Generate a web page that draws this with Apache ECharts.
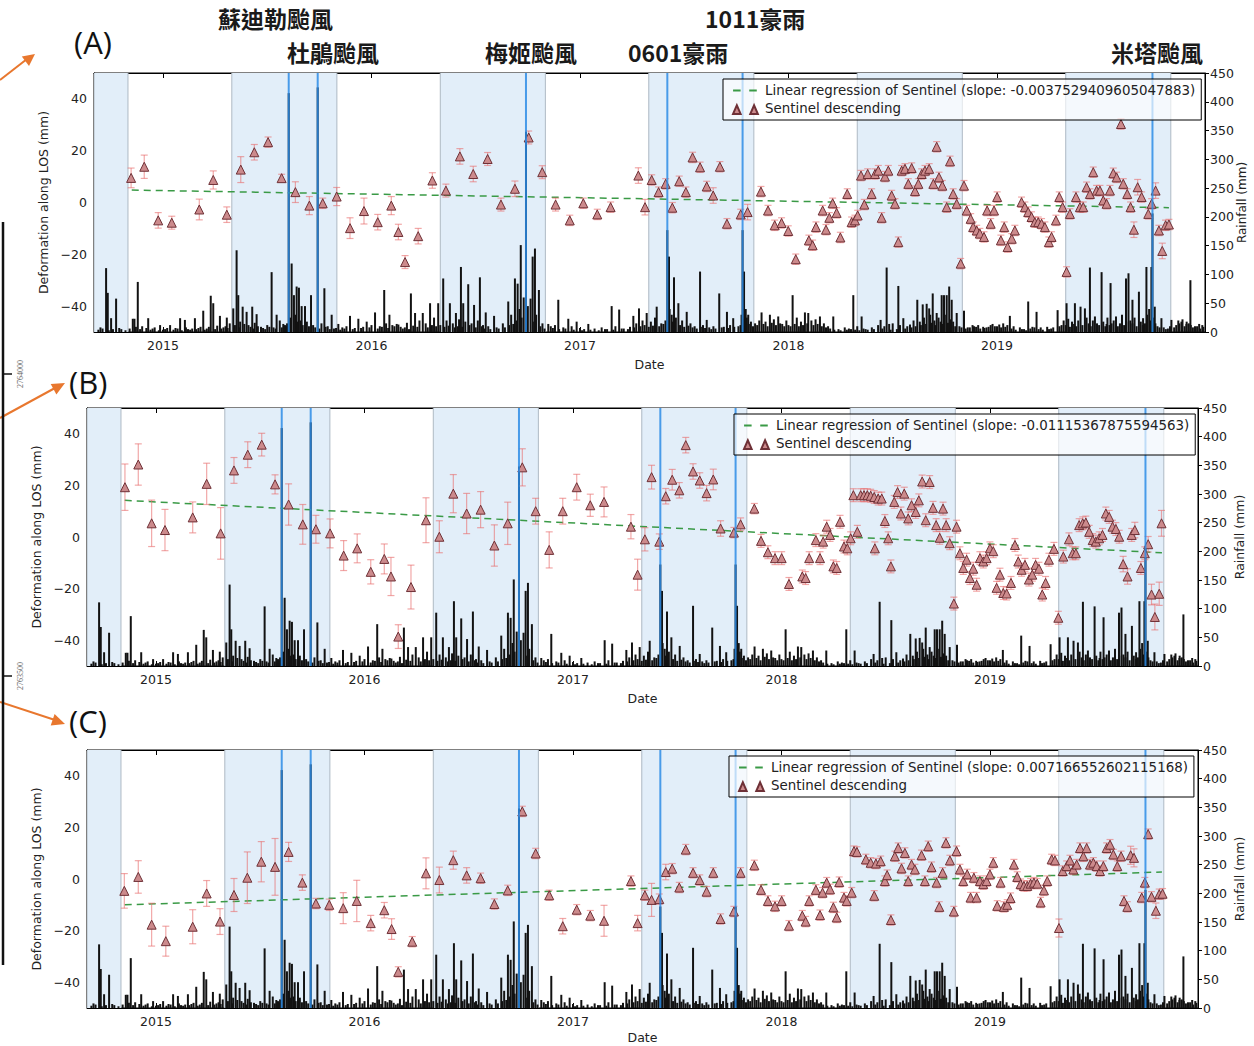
<!DOCTYPE html>
<html><head><meta charset="utf-8">
<script src="https://cdn.jsdelivr.net/npm/echarts@6/dist/echarts.min.js"></script>
<style>html,body{margin:0;padding:0;background:#fff}#c{width:1254px;height:1046px}</style>
</head><body><div id="c"></div>
<script>
// ---------- DATA (dates are decimal years) ----------
const yearTicks = [2015, 2016, 2017, 2018, 2019];
const deformTicks = [-40, -20, 0, 20, 40];
const xStart = 2014.669, xEnd = 2019.998;
const wetSeasons = [[2014.669, 2014.832], [2015.33, 2015.834], [2016.33, 2016.834], [2017.33, 2017.834], [2018.33, 2018.834], [2019.33, 2019.834]];
const eventDates = [2015.603, 2015.742, 2016.741, 2017.419, 2017.780, 2019.746];
const eventNames = ['蘇迪勒颱風', '杜鵑颱風', '梅姬颱風', '0601豪雨', '1011豪雨', '米塔颱風'];
const panelLabels = ['(A)', '(B)', '(C)'];
const slopeTexts = ['-0.0037529409605047883', '-0.01115367875594563', '0.007166552602115168'];
const regDates = [2014.85, 2019.825];
const regA = [4.8, -2.0];
const regB = [14.2, -6.1];
const regC = [-10.0, 2.7];
const defaultErr = [2, 2.5, 2];

// [date, deformation mm, error mm]
const pointsA = [
[2014.847,9.5,3.8],[2014.910,13.8,4.5],[2014.977,-6.9,3],[2015.042,-7.8,2.5],[2015.174,-2.7,4],[2015.241,8.7,3.5],[2015.306,-4.7,3],[2015.373,12.7,5],[2015.438,19.4,3],[2015.504,23.3,2],[2015.569,9.4,1.5],[2015.635,4.0,4],[2015.702,-1.2,3.5],[2015.766,-0.3,2],[2015.833,2.3,3.5],[2015.897,-9.9,4],[2015.964,-3.3,5],[2016.030,-7.6,3],[2016.095,-1.2,3.5],[2016.129,-11.4,3],[2016.161,-23,2.5],[2016.224,-13,3],
[2016.292,8.5,3],[2016.357,4.6,2.5],[2016.424,17.8,3],[2016.488,11,3],[2016.557,16.8,2.5],[2016.621,-0.8,2.5],[2016.688,5.3,3],[2016.754,25.1,2.5],[2016.819,11.7,2.5],[2016.883,-0.8,2.5],[2016.951,-6.9,2],[2017.016,-0.3,2],[2017.083,-4.6,2],[2017.147,-1.8,2],
[2017.280,10.4,3],[2017.312,-1.8,3],[2017.344,8.7],[2017.377,4.0],[2017.411,7.2],[2017.443,-2],[2017.476,8.2],[2017.508,4.0],[2017.540,17.4],[2017.576,13.6],[2017.608,6.2],[2017.639,2.7,3],[2017.671,13.8],[2017.705,-8.2],[2017.771,-4.6],[2017.804,-3.7,3],[2017.868,4.2],[2017.902,-3.1],[2017.934,-8.8],[2017.967,-7.9],[2017.999,-11],[2018.035,-21.9],[2018.098,-14.6],[2018.116,-16.5],[2018.132,-9.5],[2018.164,-3.1],[2018.180,-10.5],[2018.196,-5.9],[2018.212,-0.3],[2018.231,-4],[2018.249,-13.5],
[2018.282,3.3],[2018.303,-7.6],[2018.319,-6.9],[2018.332,-5],[2018.348,10.4],[2018.364,-0.8],[2018.380,11],[2018.399,3.3],[2018.415,11],[2018.431,12.3],[2018.447,-5.9],[2018.463,10],[2018.479,12.3],[2018.495,2.7],[2018.511,-0.5],[2018.527,-15.3],[2018.543,12.3],[2018.559,13],[2018.575,7.2],[2018.591,13.3],[2018.607,4.4],[2018.623,7.2],[2018.639,11],[2018.655,12.3],[2018.675,13],[2018.695,7.2],[2018.711,21.5],[2018.722,9.7],[2018.738,6.5],[2018.759,-1.8],[2018.775,15.9],[2018.790,3.3],[2018.807,-0.5],[2018.826,-23.6],[2018.842,6.5],[2018.855,-3.1],[2018.874,-6.3],[2018.886,-9.5],[2018.903,-10.8],[2018.918,-12],[2018.938,-13.3],[2018.953,-3.1],[2018.970,-8.2],[2018.986,-3.1],[2019.001,2.1],[2019.019,-14.6],[2019.035,-9.5],[2019.051,-17.2],[2019.071,-14],[2019.086,-10.8],[2019.118,0.1],[2019.134,-1.8],[2019.150,-3.7],[2019.166,-5.6],[2019.182,-7.6],[2019.198,-7.6],[2019.214,-8.2],[2019.230,-9.5],[2019.249,-15.3],[2019.262,-13.3],[2019.283,-6.9],[2019.299,2.1],[2019.315,-1.8],[2019.334,-26.8],[2019.350,-4.4],[2019.379,2.1],[2019.398,-1.8],[2019.414,-1.8],[2019.430,5.9],[2019.446,3.3],[2019.462,11.7],[2019.478,4.6],[2019.494,4.6],[2019.510,0.8],[2019.526,-0.5],[2019.542,4.6],[2019.558,11.3],[2019.574,9.7],[2019.595,30.3],[2019.606,7.2],[2019.625,3.3],[2019.641,-1.8],[2019.657,-10.5,3],[2019.675,5.9,3],[2019.694,2.1],[2019.726,-4.4],[2019.742,-0.5],[2019.761,4.6,3],[2019.777,-10.8],[2019.793,-18.7,3],[2019.809,-8.8],[2019.825,-8.5]
];

const pointsB = [
[2014.851,19.3,9],[2014.915,28.1,8],[2014.979,5.3,9],[2015.043,2.7,8],[2015.176,7.6,6],[2015.243,20.6,8],[2015.310,1.4,10],[2015.374,25.8,5],[2015.440,31.9,5],[2015.507,35.8,4.4],[2015.571,20.4,3.7],[2015.636,12.6,8],[2015.704,4.9,7.7],[2015.767,3.0,5.4],[2015.835,1.4,5.6],[2015.900,-7.2,5.8],[2015.965,-4.4,5.6],[2016.030,-13.5,4.7],[2016.095,-8.5,5.8],[2016.127,-15.3,7.4],[2016.162,-38.6,4.6],[2016.223,-19.4,8.5],
[2016.295,6.5,8.7],[2016.359,0.1,6.2],[2016.426,16.8,7.4],[2016.490,9.1,7.8],[2016.557,10.6,7],[2016.623,-3.3,8],[2016.687,5.3,8.2],[2016.757,27,7.2],[2016.821,10,5],[2016.886,-5,7],[2016.951,10,5],[2017.018,19.3,5],[2017.083,12.3,4.3],[2017.149,13.6,5.8],
[2017.278,4.0,4.7],[2017.310,-14.6,6],[2017.345,-0.9,4.5],[2017.377,23.2,4.6],[2017.414,-1.8,3],[2017.445,15.8,3],[2017.476,22.2,4],[2017.510,18.1,3],[2017.541,35.6,3],[2017.576,25.4,3],[2017.608,21.9,3],[2017.641,17,3],[2017.673,22.3,4],[2017.708,3.3,3],[2017.772,1.7,2],[2017.804,4.9,2.5],[2017.870,11,2],[2017.902,-1.5],[2017.935,-5.9],[2017.969,-8.2],[2018.001,-8.2],[2018.036,-18.2],[2018.100,-15.3],[2018.116,-15.9],[2018.133,-8.2],[2018.165,-1.2],[2018.185,-8.2],[2018.200,-1.8],[2018.217,4.0],[2018.233,0.8],[2018.249,-11.4],[2018.265,-12],[2018.281,5.9],
[2018.300,-3.7],[2018.316,-4.4],[2018.332,-0.5],[2018.345,16.2],[2018.364,2],[2018.380,16.2],[2018.396,16.2],[2018.412,16.2],[2018.428,16],[2018.445,15.5],[2018.448,-4.4],[2018.464,14.9],[2018.481,14.9],[2018.496,6.2],[2018.512,-0.5],[2018.525,-11.4],[2018.541,13.6],[2018.557,17.4],[2018.573,9.1],[2018.589,16.8],[2018.608,7.2],[2018.624,12.3],[2018.644,9.7],[2018.659,14.2],[2018.675,21.5],[2018.692,6.5],[2018.711,21.3],[2018.727,11.3],[2018.742,4.6],[2018.759,-0.3],[2018.775,11],[2018.790,4.6],[2018.807,-2.4],[2018.827,-25.8],[2018.840,4.0],[2018.856,-6.3],[2018.872,-12],[2018.888,-8.8],[2018.904,-15.9],[2018.920,-12.3],[2018.936,-18.5],[2018.952,-8.2],[2018.968,-9.5],[2018.984,-8.2],[2019.000,-4.4],[2019.016,-5.5],[2019.032,-19.7],[2019.048,-14.6],[2019.064,-21.7],[2019.080,-21.9],[2019.101,-17.8],[2019.120,-3.1],[2019.136,-9.5],[2019.152,-12.7],[2019.168,-10.8],[2019.187,-16.5],[2019.203,-14.6],[2019.219,-10.8],[2019.235,-12.3],[2019.251,-22.3],[2019.267,-17.8],[2019.283,-8.8],[2019.307,-4.6],[2019.328,-31.3],[2019.352,-7.6],[2019.379,-0.9],[2019.397,-6.3],[2019.412,-6.3],[2019.428,4.6],[2019.445,5.3],[2019.460,5.6],[2019.476,2.0],[2019.493,-1.2],[2019.508,-1.8],[2019.524,-0.5],[2019.540,0.8],[2019.556,9.1],[2019.572,7.8],[2019.588,4.0],[2019.604,3.1],[2019.620,0.1],[2019.639,-10.5,3],[2019.660,-15.3,3],[2019.680,0.8],[2019.695,2.7,3],[2019.724,-12],[2019.743,-6.3],[2019.759,-2.8,3],[2019.775,-22.3,4],[2019.791,-31,5],[2019.812,-22,4.5],[2019.823,5.3,5]
];

const pointsC = [
[2014.848,-4.6,6.7],[2014.915,0.8,6.3],[2014.979,-17.7,8.3],[2015.047,-24.1,5.8],[2015.176,-18.5,6.6],[2015.243,-5.6,5],[2015.307,-16.5,5],[2015.374,-6.2,6.4],[2015.438,0.5,10],[2015.505,6.7,7.8],[2015.571,4.7,11],[2015.636,10.5,3.7],[2015.702,-1.4,3],[2015.767,-9.5,2],[2015.831,-10,2.2],[2015.898,-11.3,6],[2015.963,-8.5,8],[2016.030,-17.1,3],[2016.095,-12.1,3],[2016.130,-19.4,4],[2016.162,-36,2],[2016.229,-24.3,2],
[2016.295,2.2,6],[2016.359,-0.4,5],[2016.426,7.3,3.5],[2016.490,1.4,3],[2016.557,0.3,2],[2016.623,-9.7,2],[2016.687,-4.4,2],[2016.757,26.2,2],[2016.821,9.9,2],[2016.886,-6.3,2],[2016.951,-18.3,3],[2017.018,-11.9,2],[2017.083,-14.2,2],[2017.149,-16.2,6],
[2017.278,-0.8,2],[2017.310,-17.1,3],[2017.345,-6.3,2],[2017.377,-8.1,6.4],[2017.414,-7.8,2],[2017.445,2.7,3],[2017.476,4,2],[2017.510,-3.3,2],[2017.541,11.4,2],[2017.576,2.4,2],[2017.608,-0.4,2],[2017.641,-4.9,2],[2017.673,2.4,2],[2017.708,-15.5,2],[2017.772,-12.6,2],[2017.804,2.4,2],[2017.870,5.3,2],[2017.902,-4.2],[2017.935,-8.5],[2017.969,-10.6],[2018.001,-8.5],[2018.036,-18.1],[2018.100,-14.2],[2018.116,-16.5],[2018.133,-8.5],[2018.165,-4.2],[2018.185,-14],[2018.197,-5.3],[2018.217,-1.4],[2018.233,-4],[2018.249,-11],[2018.265,-14.9],[2018.277,-1.2],
[2018.300,-7.2],[2018.313,-8.5],[2018.337,-5.3],[2018.348,10.8],[2018.362,10.5],[2018.405,7.6],[2018.428,6.3],[2018.445,-6.5],[2018.453,6],[2018.476,6.9],[2018.496,-0.8],[2018.507,1.5],[2018.525,-15.9],[2018.544,8.8],[2018.560,12],[2018.576,4.1],[2018.592,10.1],[2018.608,-0.8],[2018.624,5.6],[2018.640,3.7],[2018.672,9.2],[2018.688,-0.8],[2018.704,12.7],[2018.720,4.6],[2018.744,-1.4],[2018.757,-10.8],[2018.773,2.4],[2018.789,14],[2018.808,7.2],[2018.827,-12.6],[2018.840,10.8],[2018.856,3.7],[2018.872,-0.8],[2018.891,1.8],[2018.907,-7.2],[2018.923,0.5],[2018.936,-7.2],[2018.952,-0.8],[2018.968,-2],[2018.984,-0.8],[2019.000,1.8],[2019.016,6.3],[2019.035,-10.4],[2019.051,-1.4],[2019.067,-10.8],[2019.083,-10],[2019.099,-7.4],[2019.115,5.6],[2019.131,0.8],[2019.147,-2],[2019.163,-2.7],[2019.179,-2.7],[2019.195,-1.8],[2019.211,-1.4],[2019.227,-1.8],[2019.243,-9.1],[2019.259,-4.4],[2019.275,-0.8],[2019.296,7.6],[2019.312,7.2],[2019.331,-19,3.5],[2019.349,3.1],[2019.368,5],[2019.384,7.2],[2019.400,3.7],[2019.416,5.6],[2019.432,12],[2019.448,8.8],[2019.464,12],[2019.480,5.6],[2019.496,6.3],[2019.512,5],[2019.528,3.1],[2019.544,5],[2019.560,12],[2019.576,13.3],[2019.592,9.5],[2019.611,5],[2019.629,8.8],[2019.643,-8.5],[2019.659,-10.8],[2019.675,9.2,3.5],[2019.691,8.2,3.5],[2019.728,-7.2],[2019.743,-1.4],[2019.759,17.4],[2019.775,-6.9],[2019.796,-12.3,3],[2019.812,-5.9],[2019.828,-5.7]
];

// daily rainfall [date, mm] — main events
const rainfall = [
[2014.700,8],[2014.727,111],[2014.735,68],[2014.751,24],[2014.775,58],[2014.800,5],[2014.855,23],[2014.863,23],[2014.879,87],[2014.900,10],[2014.929,24],[2014.950,6],[2014.986,12],[2015.000,4],[2015.034,12],[2015.060,7],[2015.082,24],[2015.105,21],[2015.120,5],[2015.153,24],[2015.180,9],[2015.193,37],[2015.210,6],[2015.229,63],[2015.241,50],[2015.260,11],[2015.273,28],[2015.290,8],[2015.306,25],[2015.320,15],[2015.337,41],[2015.353,142],[2015.361,64],[2015.370,18],[2015.382,44],[2015.401,35],[2015.410,12],[2015.428,44],[2015.440,16],[2015.449,31],[2015.470,9],[2015.500,12],[2015.521,104],[2015.530,8],[2015.545,30],[2015.560,20],[2015.577,14],[2015.590,10],[2015.603,415],[2015.610,25],[2015.617,119],[2015.628,64],[2015.635,30],[2015.641,79],[2015.652,77],[2015.660,20],[2015.665,45],[2015.681,45],[2015.690,18],[2015.710,64],[2015.720,12],[2015.742,425],[2015.760,15],[2015.774,76],[2015.790,10],[2015.809,30],[2015.820,6],[2015.841,14],[2015.860,8],[2015.880,10],[2015.897,28],[2015.920,7],[2015.937,23],[2015.960,9],[2015.977,18],[2016.000,12],[2016.017,34],[2016.040,10],[2016.061,73],[2016.070,15],[2016.086,30],[2016.100,12],[2016.121,14],[2016.129,13],[2016.140,9],[2016.170,16],[2016.189,67],[2016.209,33],[2016.230,20],[2016.246,33],[2016.260,15],[2016.281,50],[2016.300,25],[2016.320,50],[2016.330,12],[2016.344,93],[2016.360,20],[2016.376,50],[2016.390,15],[2016.405,33],[2016.420,22],[2016.429,113],[2016.440,50],[2016.450,18],[2016.464,83],[2016.480,15],[2016.492,47],[2016.510,20],[2016.520,95],[2016.535,12],[2016.548,34],[2016.560,10],[2016.588,28],[2016.600,8],[2016.630,15],[2016.656,53],[2016.670,30],[2016.688,93],[2016.701,84],[2016.710,40],[2016.716,151],[2016.730,60],[2016.741,348],[2016.750,45],[2016.763,58],[2016.773,131],[2016.784,145],[2016.790,30],[2016.803,73],[2016.820,15],[2016.848,14],[2016.860,10],[2016.880,12],[2016.896,56],[2016.920,8],[2016.944,23],[2016.960,10],[2016.984,18],[2017.000,7],[2017.020,5],[2017.040,14],[2017.070,6],[2017.104,8],[2017.130,5],[2017.152,45],[2017.170,10],[2017.188,39],[2017.210,6],[2017.240,9],[2017.256,28],[2017.270,15],[2017.283,41],[2017.300,20],[2017.320,33],[2017.340,18],[2017.360,25],[2017.368,44],[2017.390,15],[2017.419,177],[2017.427,131],[2017.430,40],[2017.440,30],[2017.451,95],[2017.460,25],[2017.472,50],[2017.490,20],[2017.512,35],[2017.530,15],[2017.550,10],[2017.576,105],[2017.590,12],[2017.608,21],[2017.620,8],[2017.640,10],[2017.668,67],[2017.690,9],[2017.705,35],[2017.720,12],[2017.735,24],[2017.760,10],[2017.780,177],[2017.787,105],[2017.795,40],[2017.800,25],[2017.807,30],[2017.820,18],[2017.840,15],[2017.860,20],[2017.871,34],[2017.890,18],[2017.911,30],[2017.930,22],[2017.951,27],[2017.960,15],[2017.990,20],[2018.010,10],[2018.020,64],[2018.040,25],[2018.060,18],[2018.079,34],[2018.095,33],[2018.110,20],[2018.130,22],[2018.151,27],[2018.170,15],[2018.190,10],[2018.215,27],[2018.240,5],[2018.270,8],[2018.290,6],[2018.311,64],[2018.330,10],[2018.351,27],[2018.370,5],[2018.400,8],[2018.430,12],[2018.442,21],[2018.460,10],[2018.471,112],[2018.483,14],[2018.500,15],[2018.527,80],[2018.535,12],[2018.551,24],[2018.570,10],[2018.583,13],[2018.600,20],[2018.618,56],[2018.630,18],[2018.644,48],[2018.650,25],[2018.663,49],[2018.675,41],[2018.680,30],[2018.692,67],[2018.700,20],[2018.711,33],[2018.720,25],[2018.735,64],[2018.746,64],[2018.750,30],[2018.759,64],[2018.771,79],[2018.775,22],[2018.783,56],[2018.790,18],[2018.807,33],[2018.820,10],[2018.842,37],[2018.860,8],[2018.883,12],[2018.890,10],[2018.910,12],[2018.934,9],[2018.950,8],[2018.970,12],[2018.979,14],[2019.000,10],[2019.011,13],[2019.030,15],[2019.050,12],[2019.062,28],[2019.080,10],[2019.110,8],[2019.130,5],[2019.150,53],[2019.170,9],[2019.190,35],[2019.210,8],[2019.241,9],[2019.260,6],[2019.291,38],[2019.310,12],[2019.320,20],[2019.334,50],[2019.342,23],[2019.360,18],[2019.374,50],[2019.390,20],[2019.401,44],[2019.422,41],[2019.430,25],[2019.446,112],[2019.460,20],[2019.470,27],[2019.480,15],[2019.502,104],[2019.510,18],[2019.526,14],[2019.530,25],[2019.545,85],[2019.560,20],[2019.571,27],[2019.590,15],[2019.600,30],[2019.619,93],[2019.631,102],[2019.640,20],[2019.650,56],[2019.660,25],[2019.681,70],[2019.690,18],[2019.701,24],[2019.717,113],[2019.720,30],[2019.730,40],[2019.741,113],[2019.746,206],[2019.757,44],[2019.770,10],[2019.789,24],[2019.800,8],[2019.820,6],[2019.837,21],[2019.860,12],[2019.870,20],[2019.885,18],[2019.890,22],[2019.909,14],[2019.920,15],[2019.928,90],[2019.950,10],[2019.970,14],[2019.985,12]
];
// light daily rain (baseline texture) [date, mm]
const lightRain = [
[2014.69,4],[2014.71,6],[2014.74,3],[2014.76,5],[2014.79,7],[2014.82,3],[2014.84,6],[2014.87,9],[2014.89,5],[2014.92,7],[2014.94,4],[2014.96,8],[2014.98,3],[2015.01,5],[2015.02,7],[2015.05,4],[2015.07,6],[2015.09,3],[2015.11,8],[2015.13,4],[2015.14,6],[2015.16,5],[2015.17,7],[2015.20,4],[2015.22,9],[2015.25,5],[2015.28,6],[2015.30,10],[2015.31,7],[2015.345,12],[2015.365,8],[2015.39,14],[2015.42,9],[2015.435,6],[2015.455,10],[2015.48,7],[2015.49,5],[2015.51,9],[2015.54,6],[2015.57,8],[2015.585,12],[2015.595,15],[2015.645,18],[2015.67,12],[2015.70,10],[2015.73,8],[2015.75,6],[2015.78,9],[2015.80,5],[2015.83,7],[2015.85,4],[2015.87,6],[2015.91,5],[2015.95,7],[2015.99,8],
[2016.03,6],[2016.05,9],[2016.08,7],[2016.11,10],[2016.15,6],[2016.16,8],[2016.18,5],[2016.20,11],[2016.22,9],[2016.27,8],[2016.29,12],[2016.31,10],[2016.35,9],[2016.37,11],[2016.40,8],[2016.415,10],[2016.435,9],[2016.47,12],[2016.50,8],[2016.53,10],[2016.54,6],[2016.57,5],[2016.61,6],[2016.64,8],[2016.66,12],[2016.68,14],[2016.695,20],[2016.72,25],[2016.78,18],[2016.81,10],[2016.83,6],[2016.87,7],[2016.90,5],[2016.93,6],[2016.97,4],
[2017.01,3],[2017.05,4],[2017.09,3],[2017.12,5],[2017.16,4],[2017.20,6],[2017.23,5],[2017.26,8],[2017.29,10],[2017.31,12],[2017.33,9],[2017.35,11],[2017.38,10],[2017.40,14],[2017.41,20],[2017.445,18],[2017.48,12],[2017.50,9],[2017.52,11],[2017.54,8],[2017.56,6],[2017.58,9],[2017.60,7],[2017.63,5],[2017.65,6],[2017.68,8],[2017.71,7],[2017.74,9],[2017.77,12],[2017.775,30],[2017.785,22],[2017.81,14],[2017.83,10],[2017.85,12],[2017.88,14],[2017.90,10],[2017.92,16],[2017.94,12],[2017.97,14],[2017.98,10],
[2018.00,12],[2018.03,14],[2018.05,10],[2018.07,12],[2018.09,15],[2018.12,12],[2018.14,14],[2018.16,10],[2018.18,8],[2018.20,6],[2018.22,4],[2018.25,3],[2018.28,4],[2018.30,5],[2018.32,4],[2018.34,3],[2018.36,6],[2018.38,4],[2018.41,5],[2018.45,6],[2018.49,4],[2018.52,5],[2018.56,6],[2018.59,8],[2018.61,10],[2018.635,12],[2018.66,14],[2018.685,16],[2018.705,12],[2018.73,18],[2018.74,14],[2018.765,16],[2018.78,12],[2018.80,10],[2018.83,8],[2018.85,6],[2018.87,8],[2018.90,9],[2018.92,6],[2018.94,7],[2018.96,9],[2018.99,10],
[2019.02,8],[2019.04,9],[2019.07,6],[2019.09,4],[2019.12,5],[2019.14,3],[2019.16,6],[2019.18,8],[2019.20,5],[2019.22,4],[2019.25,5],[2019.27,8],[2019.30,10],[2019.33,12],[2019.35,9],[2019.37,14],[2019.38,10],[2019.41,12],[2019.44,15],[2019.45,10],[2019.49,12],[2019.52,10],[2019.54,12],[2019.55,15],[2019.58,10],[2019.61,12],[2019.62,18],[2019.65,15],[2019.67,10],[2019.70,12],[2019.71,15],[2019.735,20],[2019.75,25],[2019.76,15],[2019.78,8],[2019.81,5],[2019.83,10],[2019.85,8],[2019.875,15],[2019.90,10],[2019.91,18],[2019.93,12],[2019.94,8],[2019.96,10],[2019.975,6],[2019.99,9]
];

// ---------- LAYOUT ----------
const grids = [
  {left: 94, top: 73, width: 1111, height: 259},
  {left: 87, top: 408, width: 1111, height: 258},
  {left: 87, top: 750, width: 1111, height: 258}
];
const legendPos = [{left: 723, top: 79}, {left: 734, top: 414}, {left: 729, top: 756}];
const rightNameGap = [31, 35, 35];
const rightNameSize = [12, 12.5, 12.5];
const dateNameGap = [26, 26, 23];
const panelData = [pointsA, pointsB, pointsC];
const regData = [regA, regB, regC];
const allRain = rainfall.concat(lightRain);

const FONT = 'DejaVu Sans';
const txt = {color: '#222', fontFamily: FONT, fontSize: 12.5};
const minus = v => (v < 0 ? '\u2212' + (-v) : String(v));

const xAxes = [], yAxes = [], series = [], legends = [];
grids.forEach((g, i) => {
  xAxes.push({
    gridIndex: i, type: 'value', min: xStart, max: xEnd, position: 'bottom',
    axisLine: {show: true, onZero: false, lineStyle: {color: '#000'}},
    axisTick: {show: true, inside: true, length: 5, customValues: yearTicks, lineStyle: {color: '#000'}},
    axisLabel: Object.assign({customValues: yearTicks, formatter: v => String(Math.round(v)), margin: 7}, txt),
    splitLine: {show: false},
    name: 'Date', nameLocation: 'middle', nameGap: dateNameGap[i], nameMoveOverlap: false,
    nameTextStyle: {color: '#222', fontFamily: FONT, fontSize: 12.5}
  });
  yAxes.push({
    gridIndex: i, type: 'value', min: -50, max: 50, position: 'left',
    axisLine: {show: true, lineStyle: {color: '#000'}},
    axisTick: {show: true, inside: true, length: 5, customValues: deformTicks, lineStyle: {color: '#000'}},
    axisLabel: Object.assign({customValues: deformTicks, formatter: minus, margin: 7}, txt),
    splitLine: {show: false},
    name: 'Deformation along LOS (mm)', nameLocation: 'middle', nameRotate: 90, nameGap: 40,
    nameTextStyle: {color: '#222', fontFamily: FONT, fontSize: 12.5}
  });
  yAxes.push({
    gridIndex: i, type: 'value', min: 0, max: 450, interval: 50, position: 'right',
    axisLine: {show: true, lineStyle: {color: '#000'}},
    axisTick: {show: true, inside: false, length: 4, lineStyle: {color: '#000'}},
    axisLabel: Object.assign({margin: 5}, txt),
    splitLine: {show: false},
    name: 'Rainfall (mm)', nameLocation: 'middle', nameRotate: 90, nameGap: rightNameGap[i], nameMoveOverlap: false,
    nameTextStyle: {color: '#222', fontFamily: FONT, fontSize: rightNameSize[i]}
  });
});
grids.forEach((g, i) => {
  xAxes.push({
    gridIndex: i, type: 'value', min: xStart, max: xEnd, position: 'top',
    axisLine: {show: true, onZero: false, lineStyle: {color: '#000'}},
    axisTick: {show: true, inside: true, length: 5, customValues: yearTicks, lineStyle: {color: '#000'}},
    axisLabel: {show: false}, splitLine: {show: false}
  });
});

grids.forEach((g, i) => {
  const yL = 2 * i, yR = 2 * i + 1;
  const regName = 'Linear regression of Sentinel (slope: ' + slopeTexts[i] + ')';
  series.push({
    type: 'custom', xAxisIndex: i, yAxisIndex: yL, z: 1, silent: true, clip: true,
    data: wetSeasons.map(w => [w[0], w[1], 0]), encode: {x: [0, 1], y: 2},
    renderItem: (p, api) => {
      const cs = p.coordSys;
      const a = api.coord([api.value(0), 0])[0], b = api.coord([api.value(1), 0])[0];
      const x1 = Math.max(a, cs.x), x2 = Math.min(b, cs.x + cs.width);
      return {type: 'group', children: [
        {type: 'rect', shape: {x: x1, y: cs.y, width: x2 - x1, height: cs.height}, style: {fill: '#e2eef9'}},
        {type: 'line', shape: {x1: x1, y1: cs.y, x2: x1, y2: cs.y + cs.height}, style: {stroke: '#aeb9c4', lineWidth: 1}},
        {type: 'line', shape: {x1: x2, y1: cs.y, x2: x2, y2: cs.y + cs.height}, style: {stroke: '#aeb9c4', lineWidth: 1}}
      ]};
    }
  });
  series.push({
    type: 'custom', name: 'Rainfall', xAxisIndex: i, yAxisIndex: yR, z: 2, silent: true, clip: true,
    data: allRain, encode: {x: 0, y: 1},
    renderItem: (p, api) => {
      const p0 = api.coord([api.value(0), 0]), p1 = api.coord([api.value(0), api.value(1)]);
      return {type: 'rect', shape: {x: p0[0] - 1, y: p1[1], width: 2, height: p0[1] - p1[1]}, style: {fill: '#121212'}};
    }
  });
  series.push({
    type: 'line', name: regName, xAxisIndex: i, yAxisIndex: yL, z: 3, silent: true,
    data: regDates.map((t, k) => [t, regData[i][k]]), symbol: 'none',
    color: '#3a9a46',
    lineStyle: {color: '#3a9a46', width: 1.5, type: [7, 5]}
  });
  const de = defaultErr[i];
  series.push({
    type: 'custom', xAxisIndex: i, yAxisIndex: yL, z: 4, silent: true, clip: true,
    data: panelData[i].map(d => [d[0], d[1], d[2] != null ? d[2] : de]), encode: {x: 0, y: 1},
    renderItem: (p, api) => {
      const t = api.value(0), v = api.value(1), e = api.value(2);
      const a = api.coord([t, v + e]), b = api.coord([t, v - e]);
      const st = {stroke: 'rgba(232,110,110,0.6)', lineWidth: 1.2};
      return {type: 'group', children: [
        {type: 'line', shape: {x1: a[0], y1: a[1], x2: b[0], y2: b[1]}, style: st},
        {type: 'line', shape: {x1: a[0] - 3.5, y1: a[1], x2: a[0] + 3.5, y2: a[1]}, style: st},
        {type: 'line', shape: {x1: b[0] - 3.5, y1: b[1], x2: b[0] + 3.5, y2: b[1]}, style: st}
      ]};
    }
  });
  series.push({
    type: 'scatter', name: 'Sentinel descending', xAxisIndex: i, yAxisIndex: yL, z: 5,
    data: panelData[i].map(d => [d[0], d[1]]), symbol: 'triangle', symbolSize: [9, 9],
    itemStyle: {color: '#cc8a8c', borderColor: '#6e3036', borderWidth: 1, opacity: 1}
  });
  series.push({
    type: 'custom', xAxisIndex: i, yAxisIndex: yL, z: 6, silent: true, clip: true,
    data: eventDates.map(t => [t, 0]), encode: {x: 0, y: 1},
    renderItem: (p, api) => {
      const cs = p.coordSys; const x = api.coord([api.value(0), 0])[0];
      return {type: 'line', shape: {x1: x, y1: cs.y, x2: x, y2: cs.y + cs.height}, style: {stroke: 'rgba(45,140,230,0.85)', lineWidth: 2}};
    }
  });
  legends.push({
    left: legendPos[i].left, top: legendPos[i].top, orient: 'vertical', z: 20,
    itemGap: 5, padding: [5, 6, 5, 8], borderColor: '#000', borderWidth: 1,
    backgroundColor: 'rgba(255,255,255,0.65)', selectedMode: false,
    itemWidth: 28, itemHeight: 11,
    textStyle: {color: '#222', fontFamily: FONT, fontSize: 13.4},
    data: [
      {name: regName, icon: 'path://M0,0L0.01,0Z M26,10L25.99,10Z M1,4h7v2h-7z M16,4h7v2h-7z'},
      {name: 'Sentinel descending', icon: 'path://M0,0L0.01,0Z M26,10L25.99,10Z M1,10L4.5,2L8,10Z M17,10L20.5,2L24,10Z'}
    ]
  });
});

// ---------- DECORATION ----------
const cjk = '"Noto Sans CJK TC", "Noto Sans CJK SC"';
const annot = [
  {t: eventNames[0], x: 218, y: 18}, {t: eventNames[4], x: 705, y: 18},
  {t: eventNames[1], x: 287, y: 52}, {t: eventNames[2], x: 485, y: 52},
  {t: eventNames[3], x: 628, y: 52}, {t: eventNames[5], x: 1111, y: 52}
];
const graphic = [];
annot.forEach(a => graphic.push({type: 'text', x: a.x, y: a.y, z: 50,
  style: {text: a.t, font: 'bold 23px ' + cjk, fill: '#1a1a1a', textAlign: 'left', textVerticalAlign: 'middle'}}));
[[74, 42], [69, 382], [69, 721]].forEach((p, i) => graphic.push({type: 'text', x: p[0], y: p[1], z: 50,
  style: {text: panelLabels[i], font: '31px "Open Sans"', fill: '#111', textAlign: 'left', textVerticalAlign: 'middle'}}));
const arrows = [
  {line: [0, 80, 27, 59], head: [[35, 54], [29, 66], [21.8, 56.4]]},
  {line: [0, 418, 55, 388], head: [[65, 383], [56.4, 394.5], [50.7, 383.9]]},
  {line: [0, 702, 55, 720], head: [[65, 724], [50.7, 725.5], [54.6, 714.1]]}
];
arrows.forEach(a => {
  graphic.push({type: 'line', z: 50, shape: {x1: a.line[0], y1: a.line[1], x2: a.line[2], y2: a.line[3]}, style: {stroke: '#e8772e', lineWidth: 2}});
  graphic.push({type: 'polygon', z: 50, shape: {points: a.head}, style: {fill: '#e8772e'}});
});
graphic.push({type: 'line', z: 50, shape: {x1: 3, y1: 222, x2: 3, y2: 965}, style: {stroke: '#111', lineWidth: 2.5}});
graphic.push({type: 'line', z: 50, shape: {x1: 3, y1: 374, x2: 12, y2: 374}, style: {stroke: '#111', lineWidth: 1.5}});
graphic.push({type: 'line', z: 50, shape: {x1: 3, y1: 676, x2: 12, y2: 676}, style: {stroke: '#111', lineWidth: 1.5}});
graphic.push({type: 'text', x: 20, y: 374, rotation: Math.PI / 2, z: 50,
  style: {text: '2764000', font: '8px "Liberation Serif"', fill: '#666', textAlign: 'center', textVerticalAlign: 'middle'}});
graphic.push({type: 'text', x: 20, y: 676, rotation: Math.PI / 2, z: 50,
  style: {text: '2763500', font: '8px "Liberation Serif"', fill: '#666', textAlign: 'center', textVerticalAlign: 'middle'}});

const chart = echarts.init(document.getElementById('c'), null, {renderer: 'svg'});
chart.setOption({
  animation: false,
  backgroundColor: '#fff',
  grid: grids.map(g => Object.assign({show: true, borderColor: '#000', borderWidth: 1, backgroundColor: 'transparent', outerBoundsMode: 'none', containLabel: false}, g)),
  xAxis: xAxes, yAxis: yAxes, series: series, legend: legends, graphic: graphic
});
</script></body></html>
